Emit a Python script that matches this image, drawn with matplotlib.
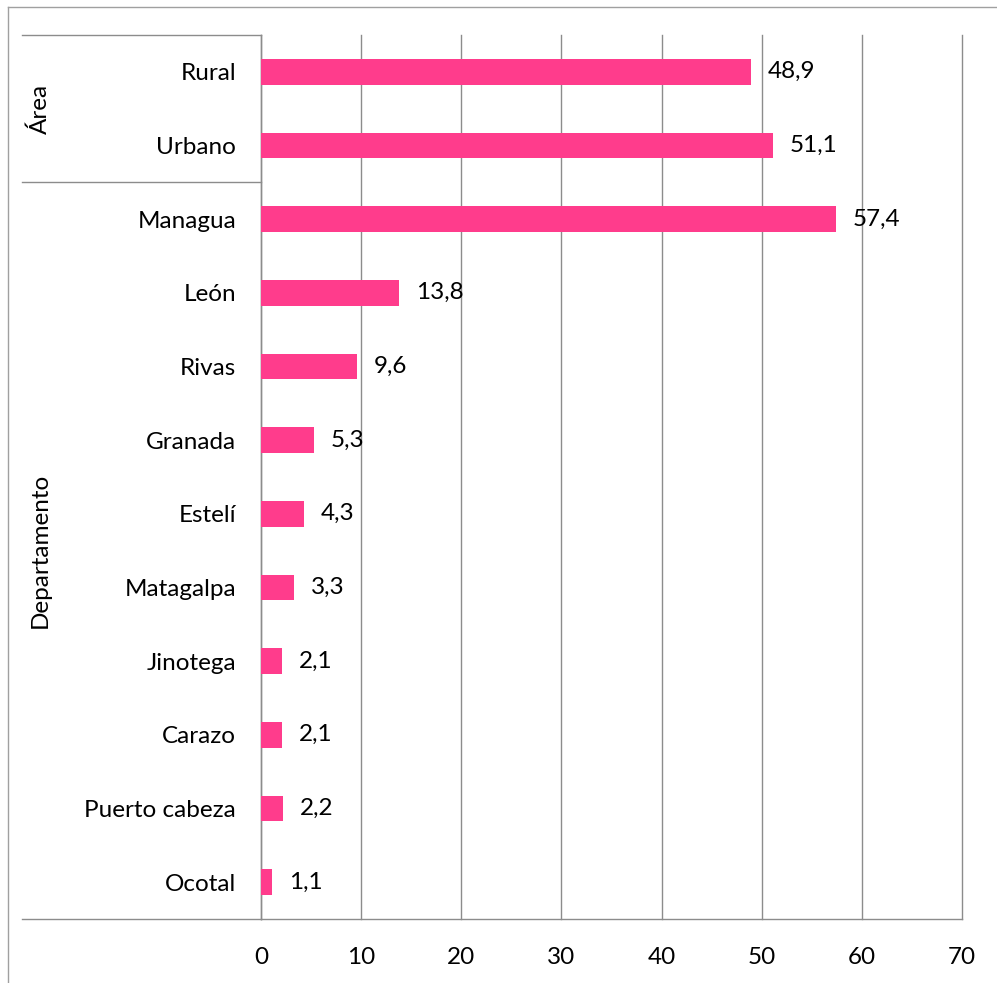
import matplotlib.pyplot as plt
import matplotlib.lines as mlines

categories = ["Rural", "Urbano", "Managua", "León", "Rivas", "Granada", "Estelí",
              "Matagalpa", "Jinotega", "Carazo", "Puerto cabeza", "Ocotal"]
values = [48.9, 51.1, 57.4, 13.8, 9.6, 5.3, 4.3, 3.3, 2.1, 2.1, 2.2, 1.1]
groups = ["Área", "Departamento"]
group_sizes = [2, 10]
xticks = [0, 10, 20, 30, 40, 50, 60, 70]

plt.rcParams['font.family'] = ['Lato', 'DejaVu Sans']
fs = 17.5
W, H = 997, 983
fig = plt.figure(figsize=(W / 100, H / 100), dpi=100)
ax = fig.add_axes([261 / W, 1 - 919 / H, 701 / W, 884 / H])

gray = '#8c8c8c'
n = len(categories)
ypos = list(range(n))
ax.barh(ypos, values, height=0.35, color='#ff3c8c', zorder=3)
for y, v in zip(ypos, values):
    ax.annotate(f"{v:.1f}".replace('.', ','), (v, y), xytext=(12, 0),
                textcoords='offset points', va='center', ha='left', fontsize=fs)

ax.set_ylim(n - 0.5, -0.5)
ax.set_xlim(0, 70)
ax.set_yticks(ypos)
ax.set_yticklabels(categories, fontsize=fs)
ax.set_xticks(xticks)
ax.set_xticklabels([str(t) for t in xticks], fontsize=fs)
ax.tick_params(axis='y', length=0, pad=18)
ax.tick_params(axis='x', length=0, pad=20)
ax.grid(axis='x', color=gray, linewidth=1, zorder=0)
for gl in ax.get_xgridlines():
    gl.set_clip_on(False)
for s in ['top', 'right']:
    ax.spines[s].set_visible(False)
for s in ['left', 'bottom']:
    ax.spines[s].set_color(gray)
    ax.spines[s].set_linewidth(1)

# group separators and labels
x_left = 22 / W
x_axis = 261 / W
def fig_y(data_y):
    return ax.transData.transform((0, data_y))[1] / H

fig.canvas.draw()
bounds = [-0.5]
for sz in group_sizes:
    bounds.append(bounds[-1] + sz)
for b in bounds:
    yy = fig_y(b)
    fig.add_artist(mlines.Line2D([x_left, x_axis], [yy, yy], color=gray, linewidth=1))
for g, b0, b1 in zip(groups, bounds[:-1], bounds[1:]):
    fig.text(40 / W, (fig_y(b0) + fig_y(b1)) / 2, g, rotation=90,
             ha='center', va='center', fontsize=fs)

# chart border (left and top visible)
fig.add_artist(mlines.Line2D([8 / W, 8 / W], [0, 1 - 7 / H], color='#a0a0a0', linewidth=1))
fig.add_artist(mlines.Line2D([8 / W, 1], [1 - 7 / H, 1 - 7 / H], color='#a0a0a0', linewidth=1))

fig.savefig('out.png', dpi=100)
